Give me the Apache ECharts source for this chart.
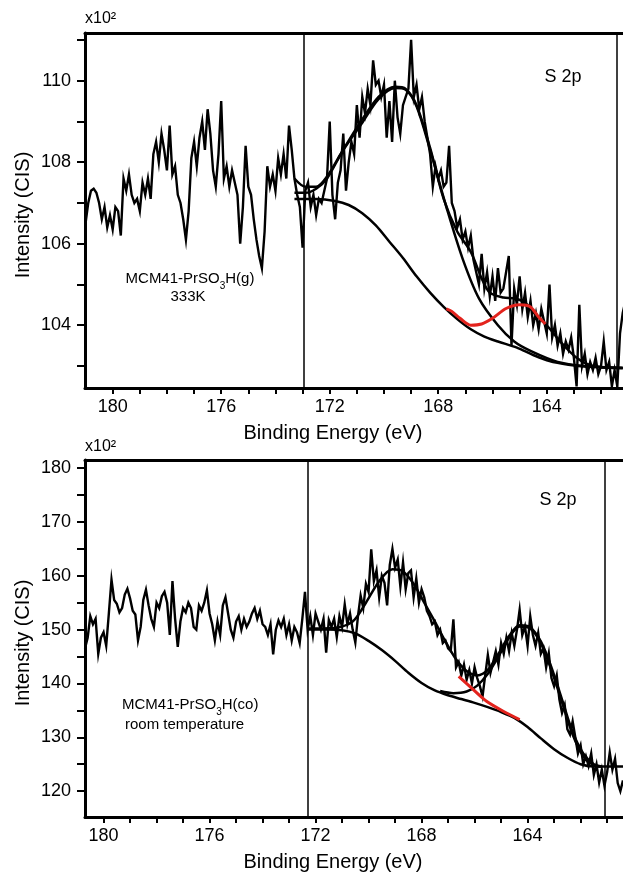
<!DOCTYPE html>
<html>
<head>
<meta charset="utf-8">
<script src="https://cdn.jsdelivr.net/npm/echarts@6/dist/echarts.min.js"></script>
<style>
  html, body { margin: 0; padding: 0; background: #fff; }
  #chart { width: 623px; height: 873px; }
</style>
</head>
<body>
<div id="chart"></div>
<script>
// S 2p spectra, energies run downward in 0.1 eV steps
const energyStep = 0.1
const topStartEV = 181.0
const bottomStartEV = 180.7

// top panel: MCM41-PrSO3H(g) 333K  (x10^2 counts)
const topCounts = [
  106.5, 107.0, 107.3, 107.35, 107.25, 107.0, 106.6, 106.9, 106.4, 106.7,
  106.35, 106.9, 106.8, 106.2, 107.6, 107.3, 107.7, 107.2, 107.0, 107.1,
  106.8, 107.5, 107.2, 107.6, 107.1, 108.2, 108.5, 108.0, 108.7, 108.3,
  107.8, 108.9, 107.7, 107.9, 107.2, 107.0, 106.6, 106.1, 106.8, 108.1,
  108.5, 107.9, 108.6, 109.0, 108.3, 109.3, 108.7, 107.8, 107.4, 108.2,
  109.5, 107.6, 107.9, 107.4, 107.8, 107.5, 107.2, 106.0, 106.9, 108.4,
  107.4, 107.2, 106.6, 106.1, 105.7, 105.4, 106.3, 107.9, 107.4, 107.7,
  107.3, 108.1, 107.7, 108.2, 107.6, 108.9, 108.3, 107.6, 107.2, 106.9,
  105.9, 107.3, 107.5, 106.9, 107.2, 106.7, 107.1, 107.0, 107.3, 107.6,
  109.0, 107.2, 106.6, 107.5, 107.8, 108.7, 107.3, 108.0, 108.5, 108.2,
  109.4, 108.6, 109.6, 109.2, 109.8, 109.4, 110.5, 109.9, 110.0, 109.6,
  109.9, 108.6, 109.5, 108.5, 110.0, 109.1, 108.7, 109.4, 109.6, 109.8,
  111.0, 109.6, 109.9, 109.3, 109.6, 109.0, 108.6, 108.2, 107.4, 107.9,
  107.6, 107.8, 107.4, 107.5, 108.4, 107.0, 106.8, 106.4, 106.6, 106.1,
  106.3, 105.9, 106.2, 105.6, 105.3, 105.0, 105.75, 104.9, 105.3, 104.7,
  105.2, 104.6, 105.4, 104.8, 104.9, 105.3, 105.7, 103.5, 104.9, 104.5,
  105.2, 104.4, 104.8, 104.2, 104.6, 104.0, 104.3, 103.9, 104.4, 104.1,
  103.8, 105.0, 103.7, 104.0, 103.5, 103.8, 103.3, 103.6, 103.4, 103.7,
  103.2, 102.5, 104.5, 103.0, 103.3, 102.8, 103.1, 102.9, 103.2, 102.8,
  103.0, 103.6, 102.9, 103.1, 102.5, 102.9, 102.5, 103.8, 104.3, 104.6
]
// fitted curves, [eV, counts]
const topBackground = [[173.3,107.1],[172.5,107.1],[171.8,107.05],[171.3,106.95],[170.8,106.75],[170.3,106.45],[169.8,106.05],[169.3,105.65],[168.8,105.2],[168.3,104.8],[167.8,104.45],[167.3,104.15],[166.8,103.9],[166.3,103.72],[165.8,103.6],[165.1,103.45],[164.5,103.27],[163.9,103.12],[163.2,103.03],[162.5,102.98],[161.2,102.95]]
const topPeak = [[173.3,107.25],[172.9,107.25],[172.5,107.35],[172.1,107.6],[171.5,108.3],[170.8,108.97],[170.2,109.55],[169.6,109.82],[169.2,109.78],[168.8,109.37],[168.3,108.3],[167.7,106.9],[167.1,105.63],[166.5,104.66],[165.8,104.0],[165.2,103.6],[164.6,103.37],[163.6,103.1],[162.6,103.0],[161.2,102.95]]
const topEnvelope = [[173.3,107.6],[172.9,107.4],[172.5,107.4],[172.1,107.65],[171.6,108.2],[170.9,108.95],[170.2,109.6],[169.6,109.85],[169.2,109.8],[168.8,109.4],[168.3,108.35],[167.8,107.1],[167.3,106.3],[166.8,105.8],[166.4,105.15],[166.1,104.8],[165.6,104.68],[165.2,104.66],[164.8,104.55],[164.4,104.25],[164.0,104.0],[163.5,103.6],[162.9,103.2],[162.3,103.0],[161.2,102.95]]
const topRed = [[167.7,104.4],[167.5,104.34],[167.2,104.17],[166.8,104.0],[166.4,104.03],[166.0,104.17],[165.5,104.41],[165.0,104.5],[164.6,104.45],[164.3,104.2],[164.05,104.03]]
const topMarkers = [172.95, 161.42]

// bottom panel: MCM41-PrSO3H(co) room temperature
const bottomCounts = [
  146.5, 148.5, 152.5, 151.0, 152.0, 145.5, 148.5,
  149.5, 147.0, 153.0, 159.3, 155.5, 154.8, 153.2, 154.0, 156.5, 157.6,
  155.8, 153.5, 152.8, 148.0, 150.5, 155.5, 157.4, 154.5, 152.0, 150.5,
  155.0, 154.0, 156.2, 157.0, 155.0, 149.0, 159.0, 152.0, 146.8, 151.5,
  154.0, 153.2, 155.0, 154.0, 150.5, 150.0, 154.5, 153.5, 155.0, 157.3,
  153.0, 151.0, 148.0, 151.5, 149.0, 154.5, 156.0, 153.0, 150.0, 148.5,
  151.5, 152.5, 150.0, 152.0, 150.5, 151.5, 153.0, 154.0, 152.0, 153.5,
  151.0, 150.5, 149.0, 151.0, 145.4, 150.0, 151.7, 150.5, 152.0, 149.0,
  151.0, 148.0, 150.5, 149.5, 147.5, 152.0, 157.0, 150.0, 152.5, 149.0,
  153.0, 151.5, 150.0, 152.0, 145.7, 151.8, 150.5, 152.0, 148.6, 152.5,
  150.5, 154.7, 151.0, 153.0, 150.0, 147.6, 152.5, 156.3, 154.0, 158.5,
  157.0, 164.9, 159.0, 161.0, 156.0, 160.0, 158.7, 154.5, 162.0, 165.0,
  161.5, 163.0, 158.0, 162.5, 157.5, 160.5, 161.0, 156.0, 159.5, 155.0,
  157.5, 156.0, 153.5, 152.5, 151.0, 151.5, 149.0, 150.0, 147.5, 148.0,
  146.5, 146.0, 151.9, 143.0, 144.0, 141.5, 143.5, 140.7, 142.5, 140.0,
  143.0, 141.0, 139.5, 137.6, 141.5, 145.3, 142.0, 144.0, 146.0, 143.5,
  147.5, 145.5, 148.5, 146.0, 149.4, 147.0, 150.0, 153.7, 149.0, 150.6,
  147.0, 152.5, 149.0, 147.0, 149.4, 145.5, 146.5, 143.0, 145.6, 141.0,
  139.5, 141.5, 137.0, 134.5, 136.0, 131.5, 130.5, 133.0, 130.0, 127.0,
  128.5, 125.0, 126.5, 124.7, 127.0, 123.0, 125.0, 121.6, 124.0, 121.0,
  123.5, 127.2, 124.0, 126.0, 121.5, 120.0, 122.0
]
const bottomBackground = [[172.3,150.0],[171.5,150.0],[171.0,149.9],[170.5,149.3],[170.0,147.9],[169.5,146.2],[169.0,144.2],[168.5,142.0],[168.0,140.1],[167.5,138.7],[167.0,137.8],[166.5,137.1],[166.0,136.4],[165.5,135.6],[165.0,134.7],[164.5,133.6],[164.0,131.9],[163.5,129.8],[163.0,127.8],[162.5,126.2],[162.0,125.0],[161.5,124.6],[160.4,124.6]]
const bottomPeak2 = [[167.3,138.6],[166.8,138.2],[166.3,138.5],[165.9,139.6],[165.5,141.8],[165.1,145.0],[164.7,148.5],[164.3,150.6],[163.9,150.2],[163.5,147.5],[163.1,142.5],[162.7,136.5],[162.3,130.5],[161.9,126.5],[161.5,124.8],[161.2,124.6]]
const bottomEnvelope = [[172.3,150.2],[171.3,150.3],[170.6,151.5],[170.1,155.0],[169.6,159.0],[169.1,161.2],[168.7,160.8],[168.3,158.5],[167.9,155.0],[167.5,151.5],[167.1,147.8],[166.7,144.5],[166.3,142.3],[165.9,141.5],[165.5,142.5],[165.1,145.5],[164.7,148.8],[164.3,150.8],[163.9,150.4],[163.5,147.8],[163.1,143.0],[162.7,137.0],[162.3,131.0],[161.9,127.0],[161.5,125.0],[161.2,124.6]]
const bottomRed = [[166.6,141.3],[166.05,138.85],[165.55,136.7],[164.9,134.8],[164.3,133.3]]
const bottomMarkers = [172.31, 161.1]

// ticks
const xLabelValues = [180, 176, 172, 168, 164]
const topXTicks = [162,163,164,165,166,167,168,169,170,171,172,173,174,175,176,177,178,179,180]
const bottomXTicks = [161,162,163,164,165,166,167,168,169,170,171,172,173,174,175,176,177,178,179,180]
const topYLabels = [104, 106, 108, 110]
const topYTicks = [103, 104, 105, 106, 107, 108, 109, 110, 111]
const bottomYLabels = [120, 130, 140, 150, 160, 170, 180]
const bottomYTicks = [120, 125, 130, 135, 140, 145, 150, 155, 160, 165, 170, 175, 180]

const FONT = '"Liberation Sans", Arial, sans-serif'
const BLACK = '#000'
const RED = '#e3231d'

function withEnergy(start, values) {
  return values.map((v, i) => [+(start - i * energyStep).toFixed(2), v])
}

function bottomAxis(grid, min, max, ticks) {
  return {
    gridIndex: grid, type: 'value', inverse: true, min: min, max: max,
    axisLine: { show: true, onZero: false, lineStyle: { color: BLACK, width: 3 } },
    axisTick: { show: true, inside: false, length: 6, lineStyle: { color: BLACK, width: 2 }, customValues: ticks },
    axisLabel: { customValues: xLabelValues, fontSize: 18, color: BLACK, fontFamily: FONT, margin: 10 },
    splitLine: { show: false }
  }
}
function topBorder(grid, min, max) {
  return {
    gridIndex: grid, type: 'value', position: 'top', inverse: true, min: min, max: max,
    axisLine: { show: true, onZero: false, lineStyle: { color: BLACK, width: 3 } },
    axisTick: { show: false }, axisLabel: { show: false }, splitLine: { show: false }
  }
}
function leftAxis(grid, min, max, ticks, labels) {
  return {
    gridIndex: grid, type: 'value', min: min, max: max,
    axisLine: { show: true, onZero: false, lineStyle: { color: BLACK, width: 3 } },
    axisTick: { show: true, inside: false, length: 8, lineStyle: { color: BLACK, width: 2 }, customValues: ticks },
    axisLabel: { customValues: labels, fontSize: 18, color: BLACK, fontFamily: FONT, margin: 14 },
    splitLine: { show: false }
  }
}
function curve(data, xi, yi, color, width) {
  return {
    type: 'line', data: data, xAxisIndex: xi, yAxisIndex: yi,
    smooth: 0.3, showSymbol: false,
    lineStyle: { color: color, width: width }, silent: true, z: 3
  }
}
function spectrum(data, xi, yi, markers) {
  return {
    type: 'line', data: data, xAxisIndex: xi, yAxisIndex: yi,
    showSymbol: false, lineStyle: { color: BLACK, width: 2.4, join: 'miter' }, silent: true, z: 2,
    markLine: {
      silent: true, symbol: ['none', 'none'], label: { show: false },
      lineStyle: { color: BLACK, width: 1.5, type: 'solid' },
      data: markers.map(v => ({ xAxis: v }))
    }
  }
}
function label(x, y, text, size, align, rot) {
  return {
    type: 'text', x: x, y: y, rotation: rot || 0,
    style: { text: text, font: size + 'px ' + FONT, fill: BLACK, textAlign: align || 'left', textVerticalAlign: 'middle', align: align || 'left', verticalAlign: 'middle' }
  }
}
function chemLabel(x, y, before, after, align) {
  return {
    type: 'text', x: x, y: y,
    style: {
      text: '{n|' + before + '}{s|3}{n|' + after + '}',
      fill: BLACK, textAlign: align, align: align, textVerticalAlign: 'middle', verticalAlign: 'middle',
      rich: {
        n: { fontSize: 15, fontFamily: FONT, lineHeight: 18, verticalAlign: 'top', fill: BLACK },
        s: { fontSize: 10, fontFamily: FONT, lineHeight: 10, verticalAlign: 'top', padding: [10, 0, 0, 0], fill: BLACK }
      }
    }
  }
}

const chart = echarts.init(document.getElementById('chart'))
const option = {
  animation: false,
  backgroundColor: '#fff',
  grid: [
    { left: 85, right: 0, top: 33, height: 355 },
    { left: 85, right: 0, top: 460, height: 357 }
  ],
  xAxis: [
    bottomAxis(0, 161.19, 181.02, topXTicks),
    topBorder(0, 161.19, 181.02),
    bottomAxis(1, 160.40, 180.70, bottomXTicks),
    topBorder(1, 160.40, 180.70)
  ],
  yAxis: [
    leftAxis(0, 102.46, 111.17, topYTicks, topYLabels),
    leftAxis(1, 115.2, 181.5, bottomYTicks, bottomYLabels)
  ],
  series: [
    spectrum(withEnergy(topStartEV, topCounts), 0, 0, topMarkers),
    curve(topBackground, 0, 0, BLACK, 2.5),
    curve(topPeak, 0, 0, BLACK, 2.5),
    curve(topEnvelope, 0, 0, BLACK, 2.5),
    curve(topRed, 0, 0, RED, 3),
    spectrum(withEnergy(bottomStartEV, bottomCounts), 2, 1, bottomMarkers),
    curve(bottomBackground, 2, 1, BLACK, 2.5),
    curve(bottomPeak2, 2, 1, BLACK, 2.5),
    curve(bottomEnvelope, 2, 1, BLACK, 2.5),
    curve(bottomRed, 2, 1, RED, 3)
  ],
  graphic: [
    label(85, 19, 'x10²', 16),
    label(333, 433, 'Binding Energy (eV)', 20, 'center'),
    label(23, 215, 'Intensity (CIS)', 20, 'center', Math.PI / 2),
    label(563, 77, 'S 2p', 18, 'center'),
    chemLabel(190, 280, 'MCM41-PrSO', 'H(g)', 'center'),
    label(188, 297, '333K', 15, 'center'),
    label(85, 447, 'x10²', 16),
    label(333, 862, 'Binding Energy (eV)', 20, 'center'),
    label(23, 643, 'Intensity (CIS)', 20, 'center', Math.PI / 2),
    label(558, 500, 'S 2p', 18, 'center'),
    chemLabel(122, 706, 'MCM41-PrSO', 'H(co)', 'left'),
    label(125, 725, 'room temperature', 15, 'left')
  ]
}
chart.setOption(option)
</script>
</body>
</html>
